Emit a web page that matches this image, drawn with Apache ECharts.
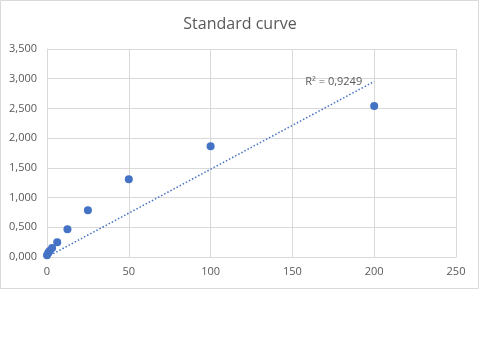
<!DOCTYPE html>
<html><head><meta charset="utf-8">
<script src="https://cdn.jsdelivr.net/npm/echarts@6/dist/echarts.min.js"></script>
<style>html,body{margin:0;padding:0;background:#fff}#c{width:480px;height:353px}</style>
</head><body><div id="c"></div>
<script>
const concentrations = [0, 0.78, 1.56, 3.125, 6.25, 12.5, 25, 50, 100, 200];
const absorbance = [0.03, 0.07, 0.10, 0.152, 0.248, 0.467, 0.787, 1.31, 1.863, 2.54];
const xTicks = [0, 50, 100, 150, 200, 250];
const yTicks = [0, 0.5, 1, 1.5, 2, 2.5, 3, 3.5];
const rSquaredText = 'R² = 0,9249';
const titleText = 'Standard curve';

// linear trendline through origin (least squares)
let sxy = 0, sxx = 0;
concentrations.forEach((x, i) => { sxy += x * absorbance[i]; sxx += x * x; });
const slope = sxy / sxx;
const xMin = Math.min(...concentrations), xMax = Math.max(...concentrations);
const trend = [[xMin, slope * xMin], [xMax, slope * xMax]];

const font = "'Open Sans', 'Liberation Sans', sans-serif";
const chart = echarts.init(document.getElementById('c'), null, {renderer: 'canvas'});
chart.setOption({
  animation: false,
  graphic: [{type: 'rect', shape: {x: 0.5, y: 0.5, width: 478, height: 288}, style: {fill: 'none', stroke: '#d9d9d9', lineWidth: 1}, silent: true, z: -1}],
  title: {text: titleText, left: 'center', top: 11, textStyle: {fontFamily: font, fontSize: 16, fontWeight: 'normal', color: '#595959'}},
  grid: {left: 47, right: 24, top: 49, bottom: 96},
  xAxis: {
    type: 'value', min: xTicks[0], max: xTicks[xTicks.length - 1], interval: xTicks[1] - xTicks[0],
    axisLine: {lineStyle: {color: '#d9d9d9'}}, axisTick: {show: false},
    splitLine: {show: true, lineStyle: {color: '#d9d9d9'}},
    axisLabel: {color: '#595959', fontFamily: font, fontSize: 11, margin: 9}
  },
  yAxis: {
    type: 'value', min: yTicks[0], max: yTicks[yTicks.length - 1], interval: yTicks[1] - yTicks[0],
    axisLine: {show: true, lineStyle: {color: '#d9d9d9'}}, axisTick: {show: false},
    splitLine: {show: true, lineStyle: {color: '#d9d9d9'}},
    axisLabel: {color: '#595959', fontFamily: font, fontSize: 11, margin: 10,
      formatter: v => v.toFixed(3).replace('.', ',')}
  },
  series: [
    {type: 'line', data: trend, symbol: 'none', silent: true,
      lineStyle: {color: '#4472c4', width: 1.5, type: [1.5, 2]},
      markPoint: {symbol: 'circle', symbolSize: 0, silent: true,
        data: [{coord: trend[1], label: {show: true, formatter: rSquaredText, position: 'left', distance: 12, color: '#595959', fontFamily: font, fontSize: 11}}]}
    },
    {type: 'scatter', data: concentrations.map((x, i) => [x, absorbance[i]]), symbolSize: 8,
      itemStyle: {color: '#4472c4', opacity: 1}}
  ]
});
</script></body></html>
